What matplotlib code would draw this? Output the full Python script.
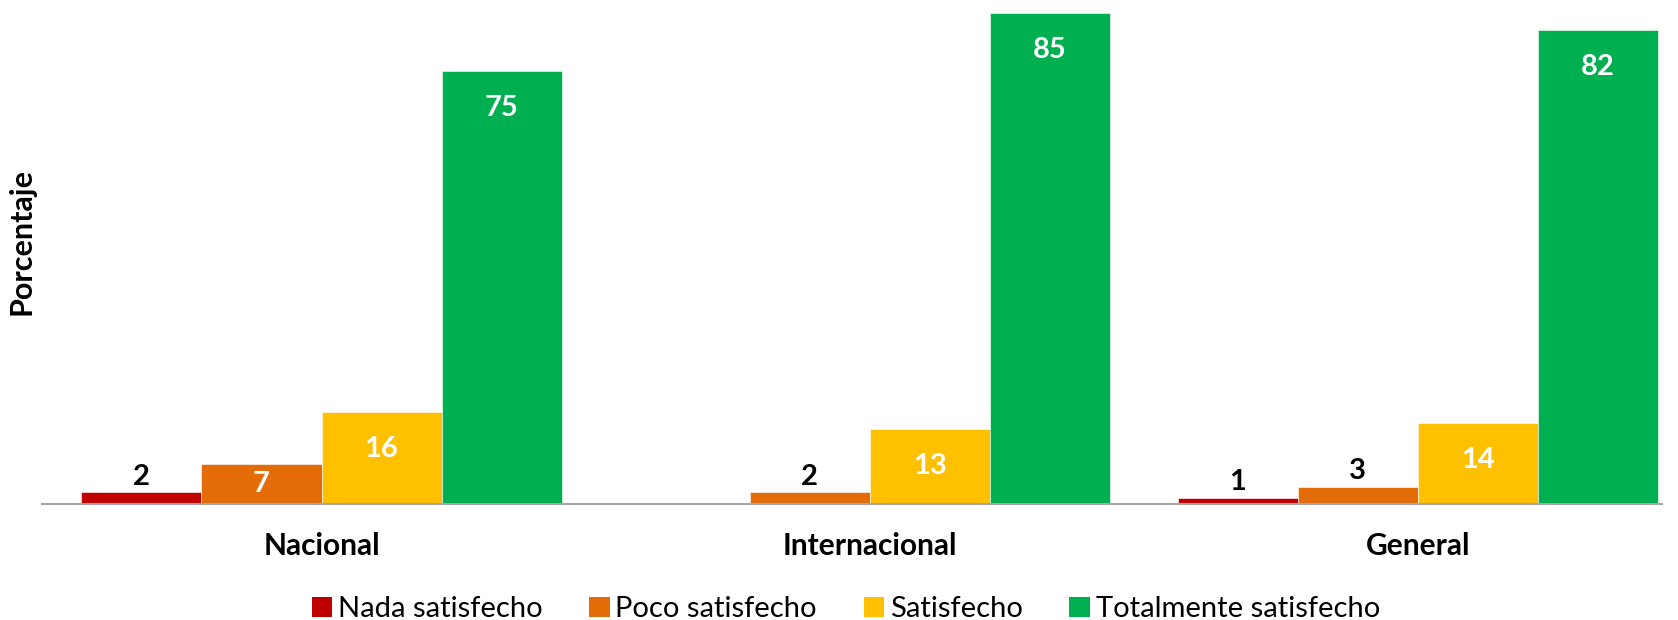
import numpy as np
import matplotlib.pyplot as plt
from matplotlib.patches import Patch

plt.rcParams['font.family'] = ['Lato', 'DejaVu Sans']

categorias = ['Nacional', 'Internacional', 'General']
series = ['Nada satisfecho', 'Poco satisfecho', 'Satisfecho', 'Totalmente satisfecho']
nada = [2, 0, 1]
poco = [7, 2, 3]
satisfecho = [16, 13, 14]
totalmente = [75, 85, 82]
colores = ['#C00000', '#E36C09', '#FFC000', '#00B050']

valores = [nada, poco, satisfecho, totalmente]

fig = plt.figure(figsize=(16.78, 6.2), dpi=100)
ax = fig.add_axes([42/1678, 116/620, 1636/1678, 504/620])

x = np.arange(len(categorias))
w = 0.219
ymax = 87.2
px = 504 / ymax  # pixels per unit on y

for i, (vals, col) in enumerate(zip(valores, colores)):
    pos = x + (i - 1.5) * w
    ax.bar(pos, vals, w, color=col, edgecolor='white', linewidth=0.4, zorder=2)
    for xp, v in zip(pos, vals):
        if v == 0:
            continue
        if v >= 5:
            # white label inside the bar, near its top
            yc = max(v - 37 / px, v / 2)
            ax.text(xp, yc, str(v), ha='center', va='center', color='white',
                    fontsize=21, fontweight='bold')
        else:
            ax.annotate(str(v), (xp, v), xytext=(0, 2), textcoords='offset points',
                        ha='center', va='bottom', color='black',
                        fontsize=21, fontweight='bold')

ax.set_xlim(-0.51, 2.475)
ax.set_ylim(0, ymax)
for s in ['top', 'right', 'left']:
    ax.spines[s].set_visible(False)
ax.spines['bottom'].set_color('#A6A6A6')
ax.spines['bottom'].set_linewidth(1.5)
ax.spines['bottom'].set_bounds(-0.51, 2.445)
ax.set_yticks([])
ax.set_xticks(x)
ax.set_xticklabels(categorias, fontsize=21.5, fontweight='bold')
ax.tick_params(axis='x', length=0, pad=20)
ax.set_ylabel('Porcentaje', fontsize=22, fontweight='bold')
ax.yaxis.set_label_coords(-0.004, 0.52)

handles = [Patch(facecolor=c, label=s) for c, s in zip(colores, series)]
fig.legend(handles=handles, loc='center', bbox_to_anchor=(0.504, 11/620), ncol=4,
           frameon=False, fontsize=21, handlelength=0.7, handleheight=0.7,
           handletextpad=0.2, columnspacing=1.6)

fig.savefig('out.png', dpi=100)
